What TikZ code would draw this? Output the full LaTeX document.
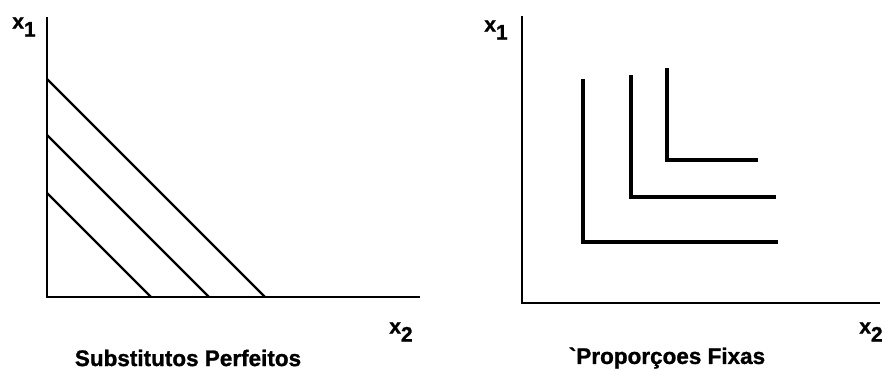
\documentclass[tikz,border=0pt]{standalone}
\usepackage{fontspec}
\setmainfont{Liberation Sans}
\newfontfamily\labfont{Liberation Sans Bold}[FakeBold=1.2]
\usepackage{tikz}
\usetikzlibrary{positioning, calc}
\newcommand{\varlab}[1]{x\raisebox{-8pt}{#1}}
\tikzset{
  axisline/.style={black, line width=2.2pt},
  isoline/.style={black, line width=2.4pt},
  leontief/.style={black, line width=3.2pt},
  varname/.style={font=\labfont\fontsize{21}{21}\selectfont, inner sep=0pt},
  caption/.style={font=\labfont\fontsize{22.5}{22.5}\selectfont, inner sep=0pt}
}
\begin{document}
\begin{tikzpicture}[x=1pt, y=-1pt]
        \useasboundingbox (0,0) rectangle (888,370);
        % substitutos perfeitos
        \coordinate (o1) at (47,297);
        \draw[axisline] (47,17) -- (o1) -- (420,297);
        \foreach \t/\b in {79/265, 135/209, 193/151}{
          \draw[isoline] (47,\t) -- (\b,297);
        }
        \node[varname] (y1) at (24,27) {\varlab{1}};
        \node[varname] (z1) at (401,332) {\varlab{2}};
        \node[caption] (cap1) at (188,358) {Substitutos Perfeitos};
        % proporcoes fixas
        \coordinate (o2) at (522,303);
        \draw[axisline] (522,16) -- (o2) -- (880,303);
        \foreach \x/\t/\c/\e in {583/79/242/778, 631/75/197/776, 667/68/160/758}{
          \draw[leontief] (\x,\t) |- (\e,\c);
        }
        \node[varname] (y2) at (496,30) {\varlab{1}};
        \node[varname] (z2) at (871,332) {\varlab{2}};
        \node[caption] (cap2) at (667,358) {`Proporçoes Fixas};
      \end{tikzpicture}
\end{document}
